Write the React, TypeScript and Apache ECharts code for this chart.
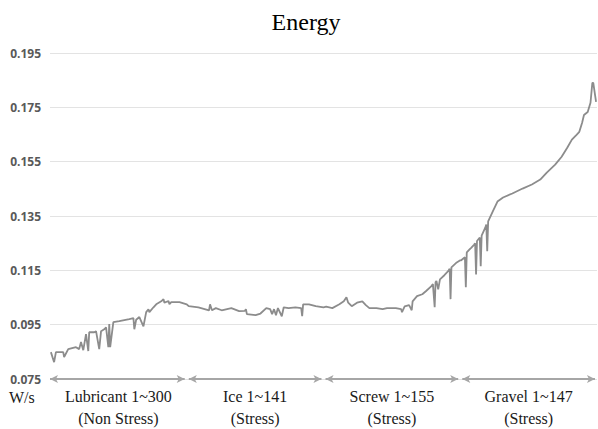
import React, { useEffect, useRef } from "react";
import * as echarts from "echarts";

const chartTitle = "Energy";
const unitLabel = "W/s";
const categoryNames = ["Lubricant 1~300", "Ice 1~141", "Screw 1~155", "Gravel 1~147"];
const categoryNotes = ["(Non Stress)", "(Stress)", "(Stress)", "(Stress)"];
const sampleCounts = [300, 141, 155, 147];
const yMin = 0.075;
const yMax = 0.195;
const yStep = 0.02;

// [sample number within group, energy value]
const lubricant: [number, number][] = [
  [2, 0.0849], [9, 0.0812], [13, 0.0849], [29, 0.0849], [31, 0.0831], [40, 0.086],
  [57, 0.0867], [64, 0.086], [68, 0.0886], [73, 0.0856], [79, 0.0915], [84, 0.0853],
  [86, 0.0922], [97, 0.0922], [101, 0.0926], [108, 0.086], [112, 0.0926], [119, 0.0933],
  [123, 0.094], [128, 0.0867], [130, 0.0952], [132, 0.0867], [139, 0.0959], [152, 0.0963],
  [174, 0.097], [183, 0.0974], [185, 0.0933], [189, 0.0968], [196, 0.0978], [205, 0.0944],
  [211, 0.0996], [216, 0.1007], [218, 0.0996], [227, 0.1014], [233, 0.1025], [244, 0.1036],
  [249, 0.1044], [251, 0.1031], [260, 0.1037], [262, 0.1025], [266, 0.1033], [284, 0.1033],
  [300, 0.1025],
];
const ice: [number, number][] = [
  [2, 0.1018], [12, 0.1014], [23, 0.1003], [24, 0.1025], [26, 0.1003], [30, 0.1011],
  [36, 0.1003], [46, 0.1011], [54, 0.1], [60, 0.1001], [61, 0.1007], [62, 0.0989],
  [71, 0.0985], [76, 0.0991], [82, 0.1011], [86, 0.1007], [88, 0.0989], [90, 0.1007],
  [92, 0.0985], [94, 0.1011], [98, 0.0981], [100, 0.1014], [105, 0.1011], [112, 0.1014],
  [118, 0.1011], [119, 0.0981], [120, 0.1025], [126, 0.1025], [133, 0.1018], [141, 0.1014],
];
const screw: [number, number][] = [
  [3, 0.1016], [10, 0.1011], [18, 0.1025], [23, 0.1036], [26, 0.1051], [28, 0.1031],
  [32, 0.1018], [38, 0.1031], [44, 0.1036], [48, 0.1022], [52, 0.1011], [60, 0.1011],
  [67, 0.1007], [72, 0.1011], [82, 0.1011], [88, 0.1007], [89, 0.0996], [92, 0.1017],
  [97, 0.1022], [100, 0.1003], [101, 0.1036], [106, 0.1055], [112, 0.1062], [116, 0.1073],
  [122, 0.1091], [124, 0.1099], [126, 0.1014], [127, 0.1106], [128, 0.1111], [130, 0.108],
  [132, 0.1117], [137, 0.1132], [141, 0.1146], [143, 0.1156], [144, 0.1044], [145, 0.1161],
  [151, 0.1179], [155, 0.1187],
];
const gravel: [number, number][] = [
  [1, 0.1187], [5, 0.1198], [6, 0.1088], [7, 0.1216], [10, 0.1227], [12, 0.1234],
  [15, 0.1245], [16, 0.125], [17, 0.1135], [18, 0.1258], [21, 0.1271], [22, 0.1165],
  [23, 0.1278], [27, 0.1308], [28, 0.1319], [29, 0.122], [30, 0.133], [35, 0.1367],
  [40, 0.1403], [46, 0.1418], [56, 0.1433], [67, 0.1451], [77, 0.1466], [86, 0.1484],
  [93, 0.151], [102, 0.1539], [109, 0.1568], [115, 0.1601], [120, 0.1631], [125, 0.1649],
  [128, 0.166], [131, 0.1693], [133, 0.1722], [137, 0.1733], [140, 0.1767], [142, 0.184],
  [143, 0.184], [146, 0.177],
];

const groups = [lubricant, ice, screw, gravel];

export default function App() {
  const ref = useRef<HTMLDivElement>(null);
  useEffect(() => {
    if (!ref.current) return;
    const chart = echarts.init(ref.current, undefined, { renderer: "svg" });
    const lineData: [number, number][] = [];
    groups.forEach((g, gi) => {
      g.forEach(([s, v]) => lineData.push([gi + s / sampleCounts[gi], v]));
    });
    const arrows = groups.map((_, gi) => [
      { coord: [gi + (gi === 0 ? 0 : 0.015), yMin] },
      { coord: [gi + 0.985, yMin] },
    ]);
    const serif = "Liberation Serif";
    chart.setOption({
      animation: false,
      grid: { left: 50, right: 1, top: 53, bottom: 49, containLabel: false },
      graphic: [
        {
          type: "text",
          x: 306,
          y: 22,
          style: {
            text: chartTitle,
            fontFamily: serif,
            fontSize: 24,
            fill: "#000",
            textAlign: "center",
            textVerticalAlign: "middle",
          },
        },
        {
          type: "text",
          x: 9,
          y: 397,
          style: {
            text: unitLabel,
            fontFamily: serif,
            fontSize: 16,
            fill: "#1a1a1a",
            textAlign: "left",
            textVerticalAlign: "middle",
          },
        },
      ],
      xAxis: [
        {
          type: "value",
          min: 0,
          max: 4,
          position: "bottom",
          axisLine: { show: false },
          axisTick: { show: false },
          axisLabel: { show: false },
          splitLine: { show: false },
        },
        {
          type: "category",
          position: "bottom",
          data: categoryNames.map((n, i) => n + "\n" + categoryNotes[i]),
          boundaryGap: true,
          axisLine: { show: false },
          axisTick: { show: false },
          splitLine: { show: false },
          axisLabel: {
            margin: 6,
            fontFamily: serif,
            fontSize: 16,
            lineHeight: 22,
            color: "#1a1a1a",
            interval: 0,
          },
        },
      ],
      yAxis: {
        type: "value",
        min: yMin,
        max: yMax,
        interval: yStep,
        axisLine: { show: false },
        axisTick: { show: false },
        splitLine: { lineStyle: { color: "#e3e3e3", width: 1 } },
        axisLabel: {
          formatter: (v: number) => v.toFixed(3),
          color: "#595959",
          fontFamily: "Open Sans",
          fontWeight: "bold",
          fontSize: 12,
          margin: 9,
        },
      },
      series: [
        {
          type: "line",
          xAxisIndex: 0,
          data: lineData,
          showSymbol: false,
          symbol: "none",
          lineStyle: { color: "#8c8c8c", width: 1.8 },
          markLine: {
            silent: true,
            symbol: ["arrow", "arrow"],
            symbolSize: [6, 8],
            label: { show: false },
            lineStyle: { color: "#a6a6a6", width: 2, type: "solid" },
            data: arrows,
          },
        },
      ],
    });
    return () => chart.dispose();
  }, []);
  return (
    <div
      ref={ref}
      style={{ position: "fixed", left: 0, top: 0, width: 598, height: 429, background: "#fff" }}
    />
  );
}
